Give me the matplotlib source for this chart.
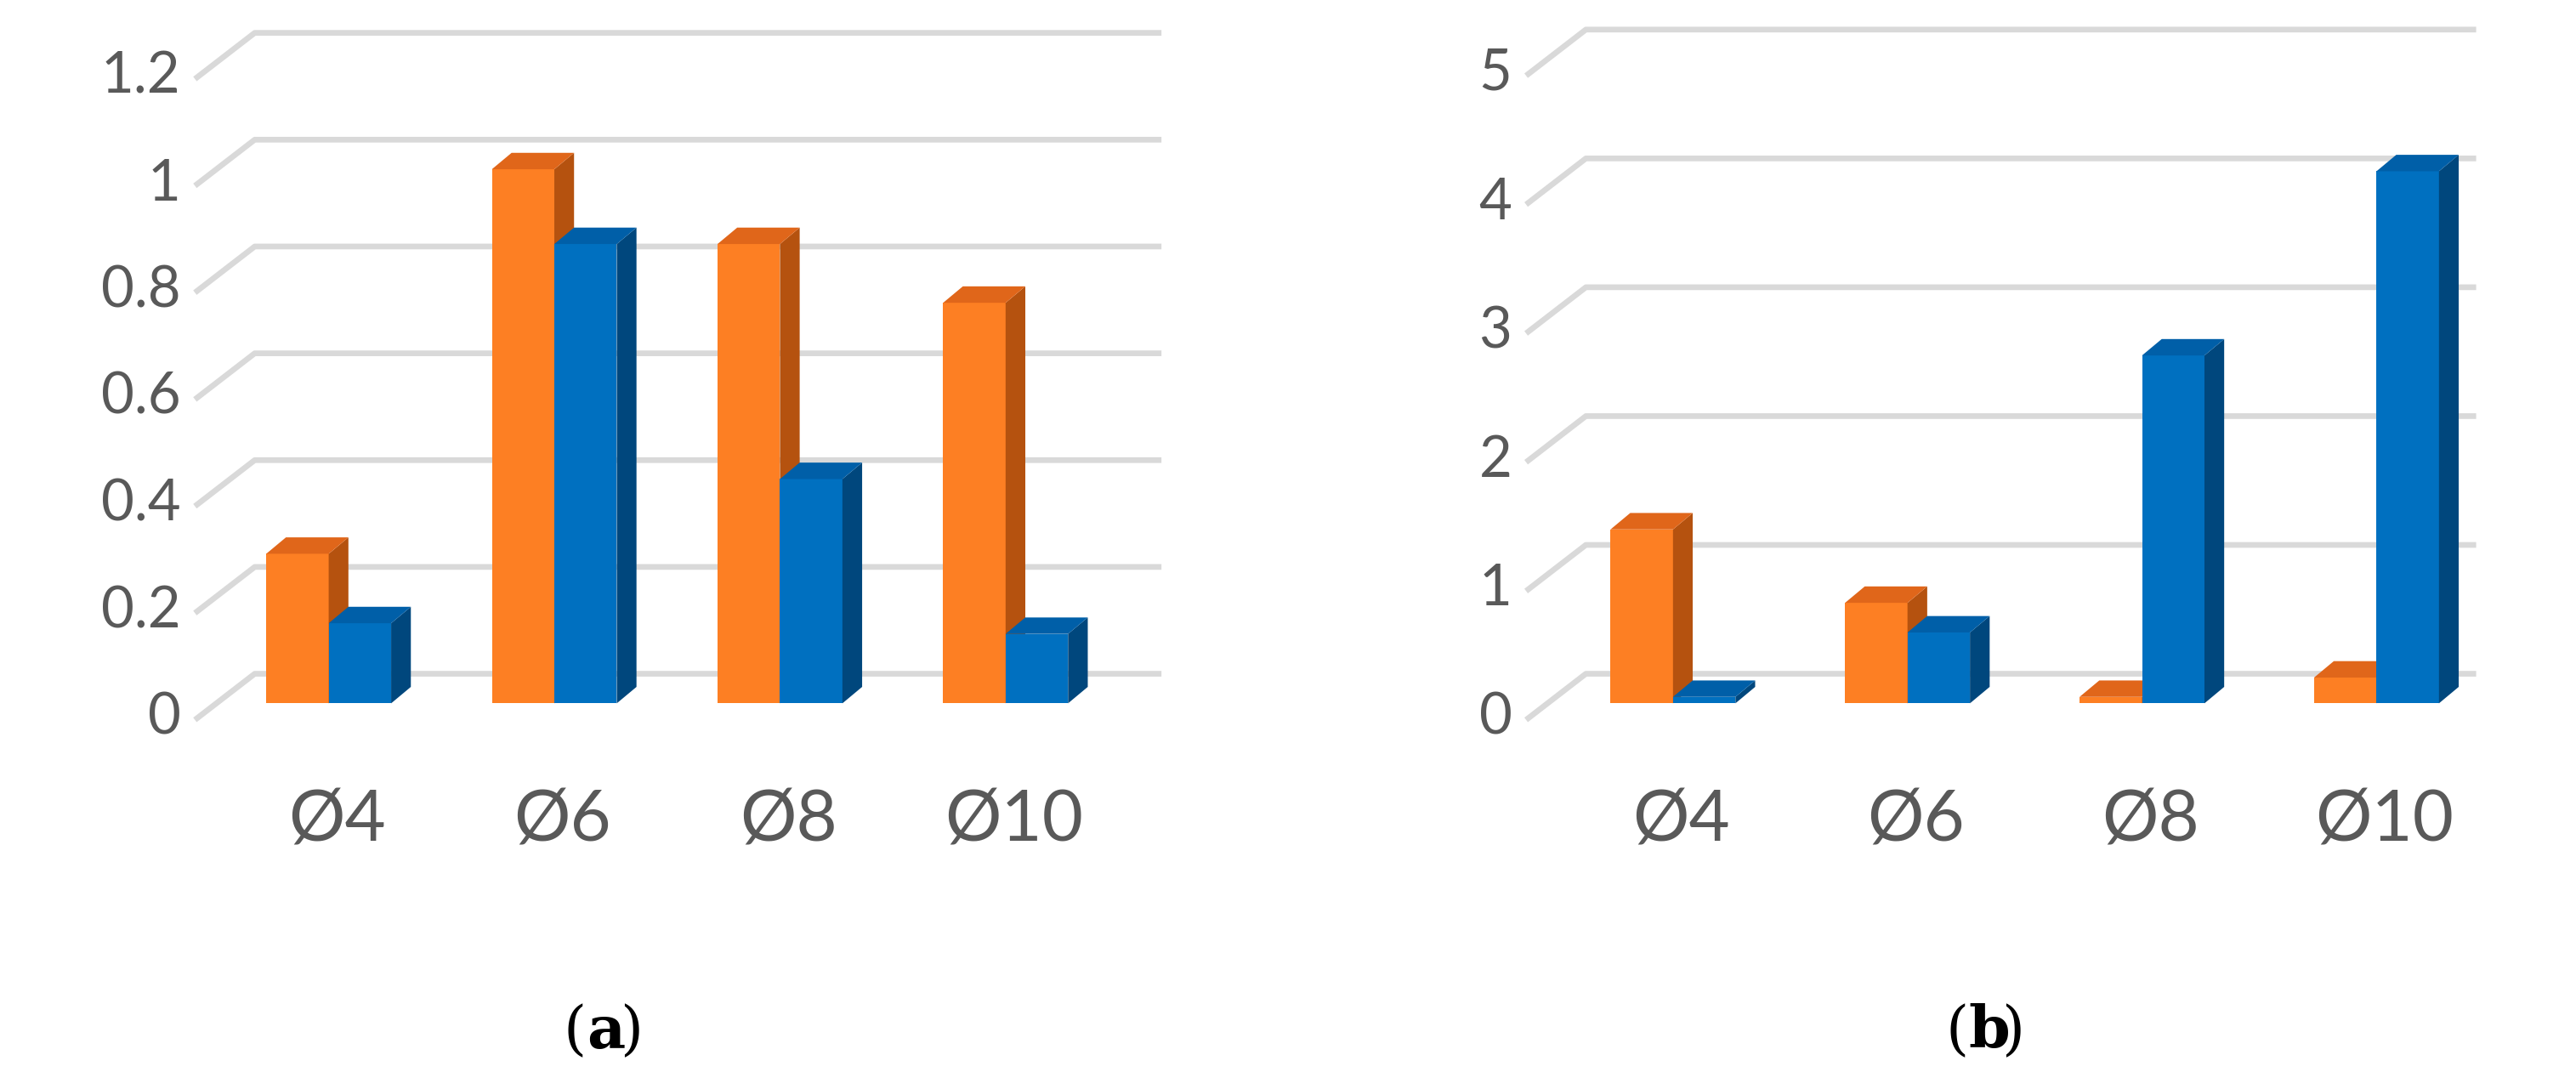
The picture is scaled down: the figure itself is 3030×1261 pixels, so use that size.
import matplotlib
matplotlib.use("Agg")
import matplotlib.pyplot as plt
from matplotlib.patches import Polygon

categories = ["Ø4", "Ø6", "Ø8", "Ø10"]
a_orange = [0.28, 1.0, 0.86, 0.75]
a_blue = [0.15, 0.86, 0.42, 0.13]
b_orange = [1.35, 0.78, 0.05, 0.2]
b_blue = [0.05, 0.55, 2.7, 4.13]
a_ticks = [0, 0.2, 0.4, 0.6, 0.8, 1, 1.2]
a_ticklabels = ["0", "0.2", "0.4", "0.6", "0.8", "1", "1.2"]
b_ticks = [0, 1, 2, 3, 4, 5]
b_ticklabels = ["0", "1", "2", "3", "4", "5"]

SCALE = 3031/1568
W, H = 1568, 1261/SCALE
DPI = 100*SCALE
fig = plt.figure(figsize=(W/100, H/100), dpi=DPI)
TXT = "#595959"
GRID = "#D9D9D9"
OR = ("#FD7F23", "#E0661A", "#B5520F")
BL = ("#0070C0", "#005FA8", "#00477D")

def panel(px0, px1, ppu, c0, spacing, orange, blue, ticks, ticklabels, label, labx):
    ax = fig.add_axes([px0/W, (H-450)/H, (px1-px0)/W, 450/H])
    ax.set_xlim(px0, px1)
    ax.set_ylim(-22/ppu, 428/ppu)
    ax.axis("off")
    u = 1/ppu
    gx0 = px0 + 25
    for t, tl in zip(ticks, ticklabels):
        yf = t - 9*u
        yb = t + 18*u
        ax.plot([gx0, gx0+35, px1-15], [yf, yb, yb], color=GRID, lw=2.5, zorder=0)
        ax.text(gx0-10, yf, tl, ha="right", va="center", fontsize=25, color=TXT, family="Lato")
    bw, ddx, ddy = 38, 12, 10*u
    for i, cat in enumerate(categories):
        c = c0 + i*spacing
        for x0, v, cols in ((c-bw, orange[i], OR), (c, blue[i], BL)):
            ax.add_patch(Polygon([(x0, 0), (x0+bw, 0), (x0+bw, v), (x0, v)], closed=True, fc=cols[0], ec="none", zorder=2))
            ax.add_patch(Polygon([(x0+bw, 0), (x0+bw+ddx, ddy), (x0+bw+ddx, v+ddy), (x0+bw, v)], closed=True, fc=cols[2], ec="none", zorder=2))
            ax.add_patch(Polygon([(x0, v), (x0+bw, v), (x0+bw+ddx, v+ddy), (x0+ddx, v+ddy)], closed=True, fc=cols[1], ec="none", zorder=2))
        fig.text((c+5)/W, 1-500/H, cat, ha="center", va="center", fontsize=31, color=TXT, family="Lato")
    fig.text(labx/W, 1-628/H, "(", ha="right", va="center", fontsize=26, family="DejaVu Serif")
    fig.text(labx/W, 1-628/H, label, ha="left", va="center", fontsize=26, family="DejaVu Serif", fontweight="bold")
    fig.text((labx+20)/W, 1-628/H, ")", ha="left", va="center", fontsize=26, family="DejaVu Serif")

panel(95, 720, 325, 200, 137.3, a_orange, a_blue, a_ticks, a_ticklabels, "a", 357)
panel(905, 1520, 78.4, 1018, 142.7, b_orange, b_blue, b_ticks, b_ticklabels, "b", 1198)

fig.savefig("out.png", dpi=DPI, facecolor="white")
